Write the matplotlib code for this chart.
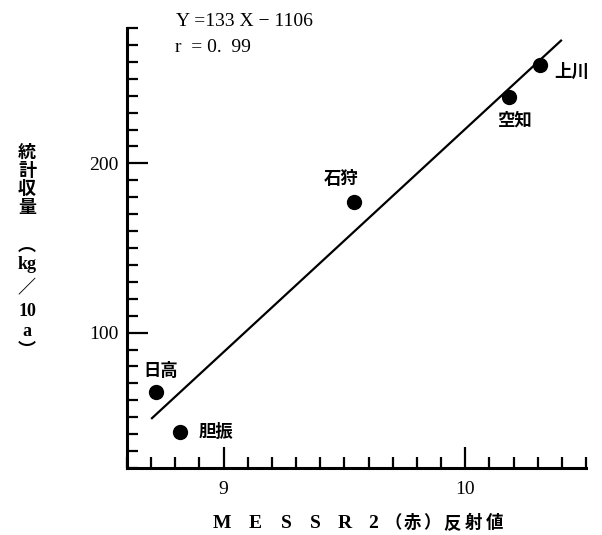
import numpy as np
import matplotlib
matplotlib.use('Agg')
import matplotlib.pyplot as plt
from matplotlib.ticker import MultipleLocator, FixedLocator

plt.rcParams['font.family'] = ['Noto Sans CJK JP', 'DejaVu Sans']

# data
names = ['日高', '胆振', '石狩', '空知', '上川']
refl = [8.72, 8.82, 9.54, 10.18, 10.31]
yield_ = [65, 41, 177, 239, 258]
line_x = [8.70, 10.40]
line_y = [49, 273]

W, H = 602, 535
SERIF = ['Liberation Serif', 'Noto Sans CJK JP']
fig = plt.figure(figsize=(W / 100, H / 100), dpi=100)
ax = fig.add_axes([127 / W, 1 - 468 / H, (586 - 127) / W, (468 - 28) / H])

ax.plot(line_x, line_y, color='black', lw=1.6, solid_capstyle='butt')
ax.plot(refl, yield_, 'o', color='black', ms=10)

# point labels (offsets in points)
offs = {'日高': (-9, 15), '胆振': (13, 0), '石狩': (-22, 17), '空知': (-8, -17), '上川': (10, -5)}
for n, x, y in zip(names, refl, yield_):
    dx, dy = offs[n]
    ax.annotate(n, (x, y), xytext=(dx, dy), textcoords='offset points',
                fontsize=12.5, fontweight='bold', va='center', ha='left')

ax.set_xlim(8.6, 10.5)
ax.set_ylim(20, 280)
ax.xaxis.set_major_locator(FixedLocator([9, 10]))
ax.xaxis.set_minor_locator(MultipleLocator(0.1))
ax.yaxis.set_major_locator(FixedLocator([100, 200]))
ax.yaxis.set_minor_locator(MultipleLocator(10))
ax.set_xticklabels(['9', '10'], family='Liberation Serif', fontsize=14)
ax.set_yticklabels(['100', '200'], family='Liberation Serif', fontsize=14)
ax.tick_params(which='major', direction='in', length=15, width=1.6)
ax.tick_params(which='minor', direction='in', length=8, width=1.6)
ax.tick_params(axis='x', which='major', pad=9)
ax.tick_params(axis='y', which='major', pad=6)

for s in ['top', 'right']:
    ax.spines[s].set_visible(False)
for s in ['left', 'bottom']:
    ax.spines[s].set_linewidth(2.2)

# equation text
fig.text(176 / W, 1 - 22 / H, 'Y =133 X − 1106', fontsize=14, family=SERIF, va='center')
fig.text(175 / W, 1 - 48 / H, 'r  = 0.  99', fontsize=14, family=SERIF, va='center')

# vertical y label
ylab = ['統', '計', '収', '量', '︵', 'kg', '／', '10', 'a', '︶']
ypos = [152, 170, 188, 207, 245, 265, 288, 312, 332, 350]
for ch, yp in zip(ylab, ypos):
    fam = SERIF if ch.isascii() else ['Noto Sans CJK JP', 'DejaVu Sans']
    fig.text(27 / W, 1 - yp / H, ch, fontsize=13, fontweight='bold',
             family=fam, ha='center', va='center')

# x label, spaced like the original
xlab = ['M', 'E', 'S', 'S', 'R', '2', '（', '赤', '）', '反', '射', '値']
xpos = [222, 255, 286, 315, 345, 373, 393, 412, 432, 452, 473, 494]
for ch, xp in zip(xlab, xpos):
    fam = SERIF if ch.isascii() else ['Noto Sans CJK JP', 'DejaVu Sans']
    fig.text(xp / W, 1 - 523 / H, ch, fontsize=14 if ch.isascii() else 12.5,
             fontweight='bold', family=fam, ha='center', va='center')

fig.savefig('out.png', dpi=100)
